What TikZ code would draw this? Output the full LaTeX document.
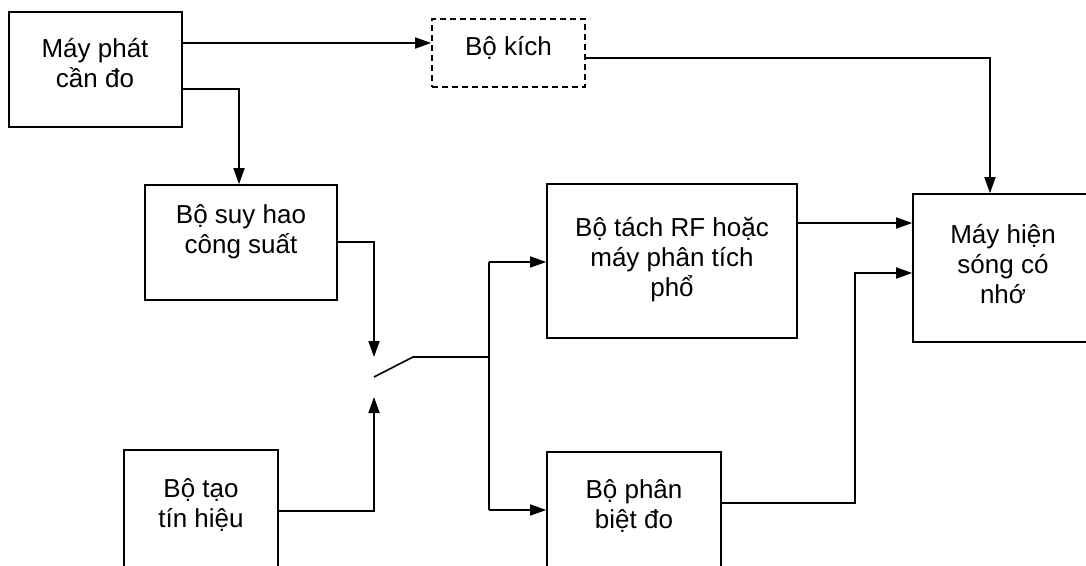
\documentclass[tikz,border=0pt]{standalone}
\usepackage{fontspec}
\setmainfont{Liberation Sans}
\usetikzlibrary{arrows.meta}
\begin{document}
\begin{tikzpicture}[x=1pt,y=-1pt,
  box/.style={draw=black,line width=1.6pt,fill=none},
  dbox/.style={box,dash pattern=on 6pt off 4pt},
  lbl/.style={align=center,inner sep=0pt,font=\fontsize{26pt}{30pt}\selectfont},
  wire/.style={line width=1.6pt},
  arr/.style={wire,-{Triangle[length=16pt,width=11pt]}}]
\useasboundingbox (0,0) rectangle (1086,565);
\clip (0,0) rectangle (1086,565);
% boxes
\node[box,minimum width=173pt,minimum height=115pt,inner sep=0pt] (mp) at (95.5,69.5) {};
\node[dbox,minimum width=153pt,minimum height=68pt,inner sep=0pt] (bk) at (508.5,53) {};
\node[box,minimum width=192pt,minimum height=115pt,inner sep=0pt] (sh) at (241,242.5) {};
\node[box,minimum width=250pt,minimum height=154pt,inner sep=0pt] (bt) at (672,261) {};
\node[box,minimum width=180pt,minimum height=148pt,inner sep=0pt] (mh) at (1003,268) {};
\node[box,minimum width=154pt,minimum height=140pt,inner sep=0pt] (tao) at (201,520) {};
\node[box,minimum width=174pt,minimum height=140pt,inner sep=0pt] (pb) at (634,522) {};
% labels
\node[lbl] (tmp) at (95,63) {Máy phát\\cần đo};
\node[lbl] (tbk) at (508.5,48) {Bộ kích};
\node[lbl] (tsh) at (241,232) {Bộ suy hao\\công suất};
\node[lbl] (tbt) at (672,259.5) {Bộ tách RF hoặc\\máy phân tích\\phổ};
\node[lbl] (tmh) at (1003,264) {Máy hiện\\sóng có\\nhớ};
\node[lbl] (ttao) at (201,505) {Bộ tạo\\tín hiệu};
\node[lbl] (tpb) at (634,506) {Bộ phân\\biệt đo};
% coordinates
\coordinate (k1) at (990,58);
\coordinate (s1) at (239,89);
\coordinate (swa) at (374,357);
\coordinate (swb) at (374,397);
\coordinate (swc) at (374,377);
\coordinate (swd) at (413,357);
\coordinate (tr) at (489,357);
\coordinate (trt) at (489,262);
\coordinate (trb) at (489,510);
\coordinate (p1) at (855,273);
% connectors
\draw[arr] (mp.east |- 0,43) -- (bk.west |- 0,43);
\draw[arr] (bk.east |- k1) -- (k1) -- (mh.north -| k1);
\draw[arr] (mp.east |- s1) -- (s1) -- (sh.north -| s1);
\draw[arr] (sh.east |- 0,242) -| (swa);
\draw[arr] (tao.east |- 0,511) -| (swb);
\draw[wire] (swc) -- (swd) -- (tr);
\draw[wire] (trt) -- (trb);
\draw[arr] (trt) -- (bt.west |- trt);
\draw[arr] (trb) -- (pb.west |- trb);
\draw[arr] (bt.east |- 0,223) -- (mh.west |- 0,223);
\draw[arr] (pb.east |- 0,503) -| (p1) -- (mh.west |- p1);
\end{tikzpicture}
\end{document}
